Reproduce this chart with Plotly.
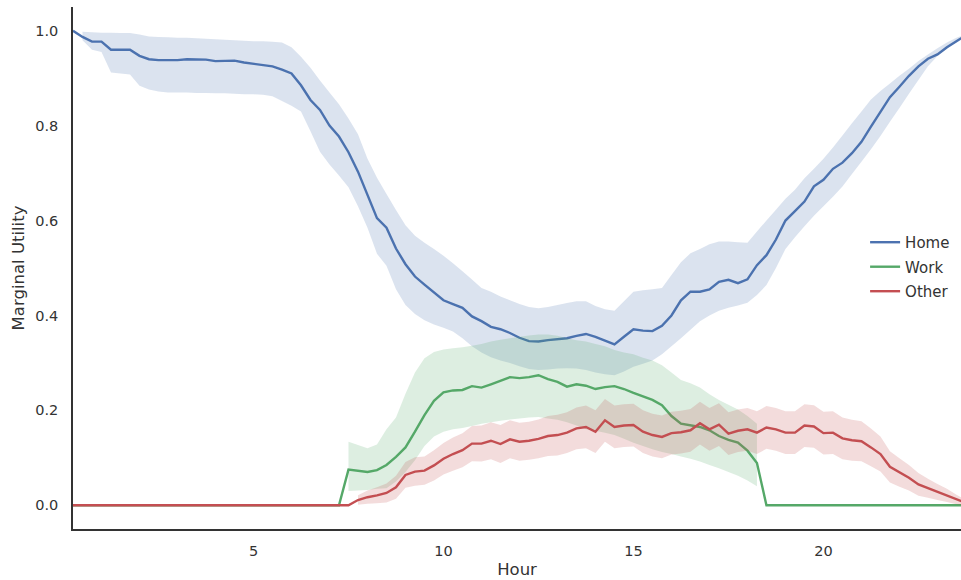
import plotly.graph_objects as go

# quarter-hour bins
hours = [q / 4 for q in range(1, 96)]

home_mean = [1.000,0.987,0.977,0.977,0.960,0.960,0.960,0.947,0.940,0.938,
             0.938,0.938,0.940,0.939,0.939,0.936,0.936,0.937,0.933,0.930,
             0.927,0.925,0.918,0.910,0.885,0.854,0.833,0.800,0.777,0.744,
             0.703,0.656,0.605,0.585,0.541,0.508,0.482,0.465,0.448,0.432,
             0.424,0.416,0.398,0.388,0.376,0.371,0.363,0.353,0.346,0.345,
             0.348,0.350,0.352,0.357,0.361,0.355,0.347,0.339,0.355,0.371,
             0.368,0.367,0.378,0.400,0.432,0.450,0.450,0.455,0.471,0.475,
             0.468,0.476,0.506,0.527,0.560,0.600,0.620,0.640,0.672,0.686,
             0.709,0.722,0.742,0.766,0.798,0.830,0.860,0.882,0.905,0.925,
             0.941,0.950,0.965,0.978,0.990]
home_hi = [1.000,0.998,0.997,0.996,0.996,0.995,0.995,0.992,0.988,0.987,
           0.986,0.985,0.985,0.984,0.983,0.982,0.981,0.980,0.979,0.978,
           0.978,0.977,0.975,0.965,0.945,0.922,0.895,0.870,0.845,0.815,
           0.782,0.730,0.690,0.656,0.622,0.590,0.568,0.553,0.540,0.526,
           0.510,0.493,0.476,0.458,0.450,0.440,0.432,0.424,0.418,0.415,
           0.418,0.422,0.426,0.430,0.430,0.420,0.413,0.410,0.430,0.450,
           0.453,0.455,0.458,0.485,0.512,0.531,0.540,0.550,0.556,0.556,
           0.554,0.553,0.577,0.600,0.623,0.646,0.665,0.689,0.709,0.730,
           0.754,0.779,0.805,0.830,0.855,0.873,0.889,0.905,0.920,0.936,
           0.950,0.963,0.975,0.985,0.993]
home_lo = [1.000,0.980,0.960,0.955,0.912,0.910,0.908,0.884,0.876,0.872,
           0.870,0.870,0.870,0.869,0.869,0.868,0.868,0.867,0.866,0.866,
           0.865,0.862,0.852,0.842,0.830,0.788,0.745,0.718,0.695,0.670,
           0.630,0.585,0.530,0.505,0.455,0.422,0.403,0.390,0.381,0.374,
           0.366,0.352,0.335,0.322,0.312,0.305,0.300,0.293,0.287,0.285,
           0.286,0.288,0.289,0.288,0.285,0.280,0.276,0.274,0.282,0.292,
           0.298,0.305,0.318,0.335,0.352,0.370,0.388,0.400,0.410,0.416,
           0.421,0.427,0.443,0.464,0.500,0.540,0.565,0.588,0.610,0.630,
           0.650,0.672,0.698,0.724,0.750,0.778,0.808,0.837,0.867,0.896,
           0.925,0.947,0.962,0.978,0.990]

work_mean = [0]*29 + [0.075,
             0.073,0.070,0.074,0.085,0.102,0.122,0.155,0.190,0.220,0.238,
             0.242,0.243,0.251,0.248,0.255,0.262,0.270,0.268,0.270,0.274,
             0.266,0.260,0.250,0.255,0.252,0.245,0.249,0.251,0.245,0.237,
             0.230,0.222,0.211,0.188,0.172,0.168,0.165,0.158,0.146,0.138,
             0.132,0.115,0.089] + [0]*22
work_hi = [0]*29 + [0.134,
           0.127,0.120,0.128,0.160,0.185,0.235,0.280,0.310,0.323,0.328,
           0.331,0.333,0.336,0.340,0.345,0.349,0.352,0.355,0.358,0.360,
           0.360,0.357,0.352,0.348,0.345,0.340,0.335,0.327,0.322,0.318,
           0.311,0.305,0.295,0.280,0.264,0.257,0.248,0.234,0.222,0.212,
           0.202,0.188,0.172] + [0]*22
work_lo = [0]*29 + [0.030,
           0.031,0.032,0.035,0.036,0.050,0.070,0.095,0.125,0.145,0.155,
           0.160,0.163,0.167,0.172,0.175,0.178,0.181,0.183,0.185,0.186,
           0.183,0.180,0.175,0.168,0.160,0.157,0.153,0.148,0.140,0.132,
           0.125,0.118,0.112,0.108,0.103,0.098,0.092,0.085,0.078,0.070,
           0.062,0.052,0.040] + [0]*22

other_mean = [0]*30 + [
              0.011,0.017,0.021,0.026,0.038,0.064,0.071,0.073,0.084,0.098,
              0.108,0.116,0.130,0.130,0.136,0.129,0.139,0.134,0.136,0.140,
              0.146,0.148,0.153,0.162,0.165,0.155,0.179,0.165,0.168,0.169,
              0.155,0.148,0.144,0.152,0.154,0.158,0.173,0.160,0.170,0.151,
              0.157,0.160,0.153,0.164,0.160,0.153,0.153,0.168,0.166,0.152,
              0.153,0.141,0.137,0.135,0.122,0.108,0.081,0.069,0.058,0.044,
              0.036,0.028,0.021,0.012,0.005]
other_err = [0]*30 + [
             0.010,0.014,0.017,0.020,0.024,0.027,0.030,0.030,0.032,0.033,
             0.035,0.036,0.037,0.038,0.039,0.040,0.040,0.040,0.040,0.041,
             0.042,0.043,0.043,0.044,0.045,0.045,0.045,0.045,0.045,0.045,
             0.045,0.045,0.045,0.045,0.045,0.045,0.045,0.045,0.045,0.045,
             0.045,0.045,0.045,0.045,0.045,0.045,0.045,0.045,0.045,0.045,
             0.045,0.044,0.043,0.042,0.040,0.037,0.033,0.030,0.027,0.024,
             0.020,0.017,0.014,0.010,0.006]

series_names = ["Home", "Work", "Other"]
colors = ["#4C72B0", "#55A868", "#C44E52"]
fills = ["rgba(76,114,176,0.2)", "rgba(85,168,104,0.2)", "rgba(196,78,82,0.2)"]

other_hi = [m + e for m, e in zip(other_mean, other_err)]
other_lo = [m - e for m, e in zip(other_mean, other_err)]

series = [
    (home_mean, home_hi, home_lo),
    (work_mean, work_hi, work_lo),
    (other_mean, other_hi, other_lo),
]

fig = go.Figure()
for k, (mean, hi, lo) in enumerate(series):
    fig.add_trace(go.Scatter(x=hours, y=mean, mode="lines", name=series_names[k],
                             line=dict(color=colors[k], width=2.4), legendgroup=series_names[k]))
    idx = [j for j in range(len(hours)) if hi[j] - lo[j] > 0]
    bx = [hours[j] for j in idx]
    fig.add_trace(go.Scatter(x=bx + bx[::-1], y=[hi[j] for j in idx] + [lo[j] for j in idx][::-1],
                             fill="toself", fillcolor=fills[k], mode="none",
                             line=dict(width=0), showlegend=False, hoverinfo="skip"))

axis_font = dict(family="DejaVu Sans", size=14.5, color="#333333")
fig.update_layout(
    width=961, height=580,
    margin=dict(l=73, r=0, t=7, b=51),
    plot_bgcolor="white", paper_bgcolor="white",
    font=dict(family="DejaVu Sans", color="#333333"),
    legend=dict(x=0.892, y=0.502, xanchor="left", yanchor="middle",
                font=dict(family="DejaVu Sans", size=15, color="#333333"),
                bgcolor="rgba(0,0,0,0)", tracegroupgap=2),
    xaxis=dict(range=[0.25, 23.62], tickvals=[5, 10, 15, 20], ticktext=["5", "10", "15", "20"],
               showgrid=False, zeroline=False, showline=True, linecolor="#333333", linewidth=1.6,
               ticks="", tickfont=axis_font, ticklabelstandoff=8,
               title=dict(text="Hour", font=dict(family="DejaVu Sans", size=16.5, color="#333333"),
                          standoff=5)),
    yaxis=dict(range=[-0.05, 1.05], tickvals=[0, 0.2, 0.4, 0.6, 0.8, 1.0],
               ticktext=["0.0", "0.2", "0.4", "0.6", "0.8", "1.0"],
               showgrid=False, zeroline=False, showline=True, linecolor="#333333", linewidth=1.6,
               ticks="", tickfont=axis_font, ticklabelstandoff=10,
               title=dict(text="Marginal Utility", font=dict(family="DejaVu Sans", size=16.5, color="#333333"),
                          standoff=6)),
)

fig.write_html("out.html")
